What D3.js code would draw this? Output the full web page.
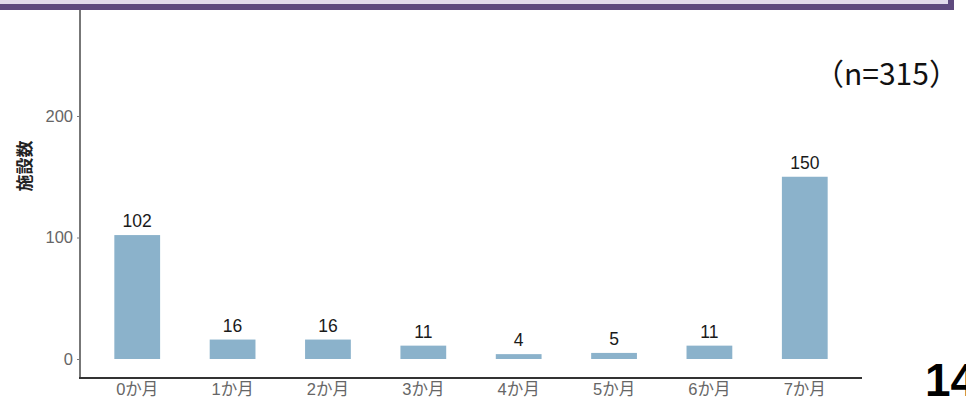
<!DOCTYPE html>
<html><head><meta charset="utf-8">
<script src="https://cdn.jsdelivr.net/npm/d3@7"></script>
<style>html,body{margin:0;padding:0;background:#fff;}svg{display:block;}</style>
</head><body>
<svg id="c" width="966" height="400"></svg>
<script>
const categories = ["0か月","1か月","2か月","3か月","4か月","5か月","6か月","7か月"];
const counts = [102, 16, 16, 11, 4, 5, 11, 150];
const yTicks = [0, 100, 200];
const nLabel = "（n=315）";
const pageNo = "14";
const yTitle = "施設数";

const svg = d3.select("#c");
// header frame
svg.append("rect").attr("x",-10).attr("y",-10).attr("width",961).attr("height",17)
  .attr("fill","#e2dbeb").attr("stroke","#5f4a7e").attr("stroke-width",6);

const x0 = 80, x1 = 862, yBase = 378;
const x = d3.scaleBand().domain(categories).range([x0 + 0.1*95.4, x1 - 0.1*95.4]).paddingInner(0.52).paddingOuter(0.26);
const y = d3.scaleLinear().domain([0, 200]).range([359, 116]);

const g = svg.append("g");
g.selectAll("rect.bar").data(counts).join("rect").attr("class","bar")
  .attr("x",(d,i)=>x(categories[i])).attr("width",x.bandwidth())
  .attr("y",d=>y(d)).attr("height",d=>y(0)-y(d)).attr("fill","#8bb2cb");
g.selectAll("text.lbl").data(counts).join("text").attr("class","lbl")
  .attr("x",(d,i)=>x(categories[i])+x.bandwidth()/2).attr("y",d=>y(d)-8)
  .attr("text-anchor","middle").attr("font-family","Liberation Sans, Arial, sans-serif")
  .attr("font-size",17.5).attr("fill","#1a1a1a").text(d=>d);

// axes
const yAxis = g.append("g").attr("transform",`translate(${x0},0)`)
  .call(d3.axisLeft(y).tickValues(yTicks).tickSize(3).tickSizeOuter(0));
yAxis.select(".domain").remove();
yAxis.selectAll("line").attr("stroke","#777");
yAxis.selectAll("text").attr("font-family","Liberation Sans, Arial, sans-serif").attr("font-size",16.5).attr("fill","#666").attr("dx","-1");
g.append("line").attr("x1",x0).attr("x2",x0).attr("y1",10).attr("y2",yBase).attr("stroke","#777").attr("stroke-width",2);

const xAxis = g.append("g").attr("transform",`translate(0,${yBase})`)
  .call(d3.axisBottom(x).tickSize(0).tickSizeOuter(0));
xAxis.select(".domain").remove();
xAxis.selectAll("text").attr("font-family","Liberation Sans, Noto Sans CJK JP, sans-serif").attr("font-size",16.5).attr("fill","#666").attr("dy","0.85em");
g.append("line").attr("x1",x0-1).attr("x2",x1).attr("y1",yBase).attr("y2",yBase).attr("stroke","#333").attr("stroke-width",2);

svg.append("text").attr("transform","translate(31,166) rotate(-90)")
  .attr("text-anchor","middle").attr("font-family","Noto Sans CJK JP, sans-serif")
  .attr("font-size",17).attr("font-weight","bold").attr("fill","#222").text(yTitle);

svg.append("text").attr("x",814).attr("y",85).attr("font-family","Noto Sans CJK JP, sans-serif")
  .attr("font-size",30).attr("fill","#111").text(nLabel);

svg.append("text").attr("x",925).attr("y",396).attr("font-family","Liberation Sans, Arial, sans-serif")
  .attr("font-size",46).attr("font-weight","bold").attr("fill","#000").text(pageNo);
</script>
</body></html>
